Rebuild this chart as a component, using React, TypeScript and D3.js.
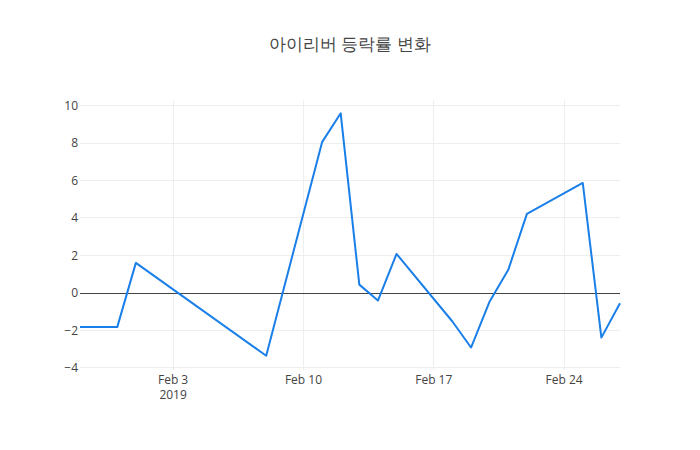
import React from 'react';
import * as d3 from 'd3';

// Daily change rate (%) of the stock
const dates = [
  '2019-01-29', '2019-01-31', '2019-02-01', '2019-02-08', '2019-02-11',
  '2019-02-12', '2019-02-13', '2019-02-14', '2019-02-15', '2019-02-18',
  '2019-02-19', '2019-02-20', '2019-02-21', '2019-02-22', '2019-02-25',
  '2019-02-26', '2019-02-27',
];
const changes = [
  -1.83, -1.83, 1.6, -3.36, 8.05,
  9.59, 0.44, -0.41, 2.08, -1.53,
  -2.92, -0.46, 1.23, 4.22, 5.87,
  -2.39, -0.55,
];
const xTicks = ['2019-02-03', '2019-02-10', '2019-02-17', '2019-02-24'];
const yTicks = [-4, -2, 0, 2, 4, 6, 8, 10];
const title = '아이리버 등락률 변화';

const W = 700;
const H = 450;
const margin = { top: 100, right: 80, bottom: 80, left: 80 };
const FONT = '"Open Sans", "Noto Sans", sans-serif';
const TEXT = '#444';

const parse = d3.utcParse('%Y-%m-%d');

export default function App() {
  const data = dates.map((d, i) => ({ date: parse(d) as Date, value: changes[i] }));

  const x = d3.scaleUtc()
    .domain(d3.extent(data, d => d.date) as [Date, Date])
    .range([margin.left, W - margin.right]);

  const y = d3.scaleLinear()
    .domain([-4.12, 10.3])
    .range([H - margin.bottom, margin.top]);

  const line = d3.line<{ date: Date; value: number }>()
    .x(d => x(d.date))
    .y(d => y(d.value));

  const fmtTick = d3.utcFormat('%b %-d');
  const fmtNum = (v: number) => (v < 0 ? '\u2212' + Math.abs(v) : String(v));
  const zeroY = Math.round(y(0)) + 0.5;

  return (
    <svg width={W} height={H} style={{ display: 'block', margin: -8, background: '#fff' }}>
      {/* grid lines */}
      <g shapeRendering="crispEdges">
        {xTicks.map(t => (
          <line key={t} x1={x(parse(t) as Date)} x2={x(parse(t) as Date)}
            y1={margin.top} y2={H - margin.bottom} stroke="#eee" strokeWidth={1} />
        ))}
        {yTicks.filter(t => t !== 0).map(t => (
          <line key={t} x1={margin.left} x2={W - margin.right}
            y1={y(t)} y2={y(t)} stroke="#eee" strokeWidth={1} />
        ))}
      </g>
      {/* zero line */}
      <line x1={margin.left} x2={W - margin.right} y1={zeroY} y2={zeroY} stroke="#444" strokeWidth={1} />

      {/* series */}
      <path d={line(data) || ''} fill="none" stroke="#1a7fe8" strokeWidth={2} strokeLinejoin="round" />

      {/* y tick labels */}
      <g fontFamily={FONT} fontSize={12} fill={TEXT}>
        {yTicks.map(t => (
          <text key={t} x={margin.left - 2} y={y(t)} dy="0.35em" textAnchor="end">{fmtNum(t)}</text>
        ))}
      </g>

      {/* x tick labels */}
      <g fontFamily={FONT} fontSize={12} fill={TEXT}>
        {xTicks.map((t, i) => {
          const px = x(parse(t) as Date);
          return (
            <g key={t}>
              <text x={px} y={384} textAnchor="middle">{fmtTick(parse(t) as Date)}</text>
              {i === 0 && <text x={px} y={399} textAnchor="middle">2019</text>}
            </g>
          );
        })}
      </g>

      {/* title */}
      <text x={W / 2} y={50} textAnchor="middle" fontFamily={FONT} fontSize={17} fill={TEXT}>{title}</text>
    </svg>
  );
}
